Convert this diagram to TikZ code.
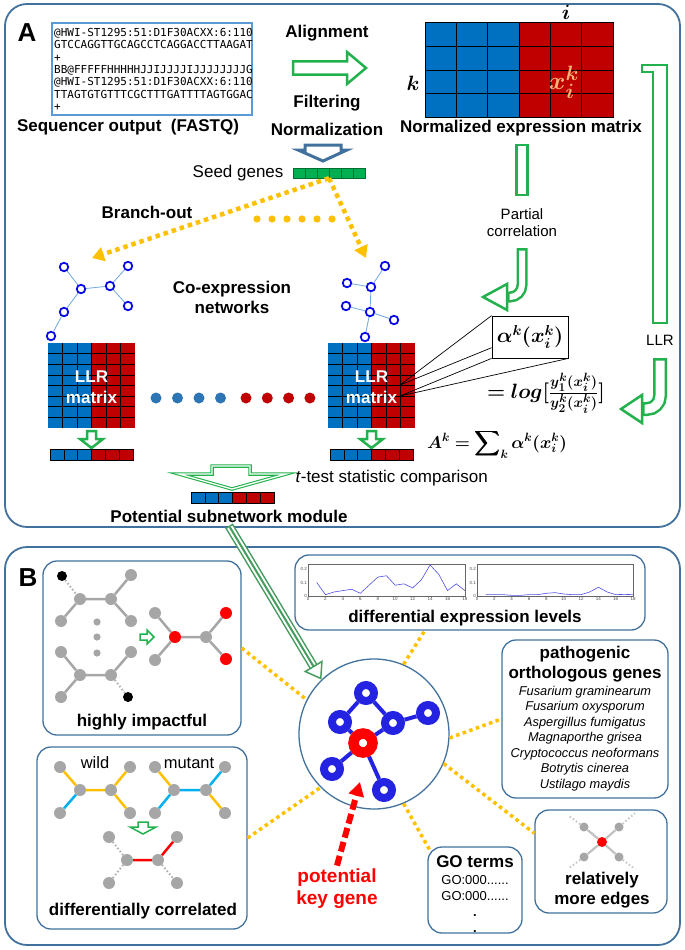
\documentclass[tikz,border=0pt]{standalone}
\usepackage{amsmath}
\usepackage{bm}
\usepackage{fontspec}
\setmainfont{Liberation Sans}
\setmonofont{DejaVu Sans Mono}
\usetikzlibrary{calc,arrows.meta,backgrounds}

\definecolor{mblue}{RGB}{0,112,192}
\definecolor{mred}{RGB}{192,0,0}
\definecolor{agreen}{RGB}{34,177,76}
\definecolor{sgreen}{RGB}{0,176,80}
\definecolor{dgreen}{RGB}{0,110,50}
\definecolor{tgreen}{RGB}{70,155,95}
\definecolor{panelblue}{RGB}{65,113,156}
\definecolor{fqblue}{RGB}{91,155,213}
\definecolor{gold}{RGB}{255,192,0}
\definecolor{netblue}{RGB}{10,10,230}
\definecolor{edgeblue}{RGB}{111,168,220}
\definecolor{hubblue}{RGB}{35,35,225}
\definecolor{nodegray}{RGB}{166,166,166}
\definecolor{cyanedge}{RGB}{0,176,240}
\definecolor{dotblue}{RGB}{46,117,182}
\definecolor{keyred}{RGB}{255,0,0}
\definecolor{xorange}{RGB}{248,180,120}
\definecolor{plotblue}{RGB}{80,80,230}

\begin{document}
\begin{tikzpicture}[x=1pt,y=-1pt,
  panel/.style={draw=panelblue,line width=1.8pt,rounded corners=22pt},
  infobox/.style={draw=panelblue,line width=1.3pt,rounded corners=14pt,inner sep=0pt},
  lab/.style={font=\fontsize{17}{20}\selectfont\bfseries,align=center},
  txt/.style={font=\fontsize{16.5}{19}\selectfont,align=center},
  smalltxt/.style={font=\fontsize{15}{17}\selectfont,align=center},
  eq/.style={font=\fontsize{20.74}{24}\selectfont,inner sep=1pt},
  fat/.style={draw=agreen,line width=2.5pt,fill=white,line join=miter},
  link/.style={draw=gold,line width=3.5pt,dash pattern=on 3.5pt off 3.5pt},
  branch/.style={draw=gold,line width=4.5pt,dash pattern=on 4.5pt off 4pt,-{Triangle[length=12pt,width=14pt]}},
  bnode/.style={circle,draw=netblue,line width=1.8pt,fill=white,inner sep=0pt,minimum size=8.5pt},
  bedge/.style={draw=edgeblue,line width=0.8pt},
  ring/.style={circle,draw=hubblue,line width=8pt,fill=white,inner sep=0pt,minimum size=16pt},
  redring/.style={ring,draw=keyred,line width=10.5pt,minimum size=19pt},
  hedge/.style={draw=hubblue,line width=4pt},
  gnode/.style={circle,fill=nodegray,inner sep=0pt,minimum size=12pt},
  rnode/.style={gnode,fill=keyred},
  knode/.style={gnode,fill=black,minimum size=10pt},
  gedge/.style={draw=nodegray,line width=2.5pt},
  gdots/.style={draw=nodegray!85,line width=2pt,dash pattern=on 1.6pt off 2.2pt},
  ticklab/.style={font=\fontsize{4.5}{5}\selectfont,inner sep=1pt,text=black!70},
]
\useasboundingbox (0,0) rectangle (685,950);

% ---------------- panel A ----------------
\draw[panel] (5,4) rectangle (680,527);
\node[font=\fontsize{26}{26}\selectfont\bfseries] (labA) at (27,33) {A};

% sequencer reads
\node[draw=fqblue,line width=1.2pt,minimum width=200pt,minimum height=92pt,inner sep=0pt] (fastq) at (152,69) {};
\begin{scope}
  \clip (fastq.north west) rectangle (fastq.south east);
  \node[anchor=north west,inner sep=0pt,align=left,font=\ttfamily\fontsize{11}{12.4}\selectfont] (reads) at (54,28)
    {@HWI-ST1295:51:D1F30ACXX:6:1101:1463\\
     GTCCAGGTTGCAGCCTCAGGACCTTAAGAT\\
     +\\
     BB@FFFFFHHHHHJJIJJJJIJJJJJJJJGJJ\\
     @HWI-ST1295:51:D1F30ACXX:6:1101:1735\\
     TTAGTGTGTTTCGCTTTGATTTTAGTGGAC\\
     +};
\end{scope}
\node[lab] (seqout) at (128,127) {Sequencer output\ \ (FASTQ)};

% alignment / filtering
\node[lab] (align) at (327,33) {Alignment};
\draw[fat] (293,61.5) -- (347,61.5) -- (347,52) -- (366,68) -- (347,84) -- (347,74.5) -- (293,74.5) -- cycle;
\node[lab] (filter) at (327,103) {Filtering};
\node[lab] (norm) at (327,129) {Normalization};
\draw[draw=panelblue,line width=3pt,fill=white,line join=miter] (305,145) -- (341,145) -- (341,150) -- (347,150) -- (323,161) -- (298,150) -- (305,150) -- cycle;

% normalized expression matrix
\node[minimum width=188pt,minimum height=94pt,inner sep=0pt] (exprmat) at (519,70) {};
\fill[mblue] (exprmat.north west) rectangle (exprmat.south);
\fill[mred] (exprmat.north) rectangle (exprmat.south east);
\foreach \i in {1,...,5} \draw[line width=0.6pt] ({425+31.33*\i},23) -- ({425+31.33*\i},117);
\foreach \j in {1,2,3} \draw[line width=0.6pt] (425,{23+23.5*\j}) -- (613,{23+23.5*\j});
\draw[line width=0.6pt] (exprmat.north west) rectangle (exprmat.south east);
\node[font=\fontsize{20.74}{22}\selectfont] (colI) at (566,12) {$\bm{i}$};
\node[font=\fontsize{20.74}{22}\selectfont] (rowK) at (413,83) {$\bm{k}$};
\node[font=\fontsize{24.88}{26}\selectfont,text=xorange,inner sep=0pt] (cellX) at (564,82) {$\bm{x_i^k}$};
\node[lab] (normlab) at (521,128) {Normalized expression matrix};

% seed genes
\node[txt,anchor=east,font=\fontsize{17}{20}\selectfont] (seedlab) at (287,173) {Seed genes};
\node[fill=sgreen,minimum width=72pt,minimum height=10pt,inner sep=0pt] (seed) at (329,173) {};
\foreach \i in {1,...,5} \draw[dgreen,line width=0.6pt] ({293+12*\i},168) -- ({293+12*\i},178);
\draw[dgreen,line width=0.6pt] (seed.north west) rectangle (seed.south east);

% branch-out
\node[lab] (branchlab) at (147,212) {Branch-out};
\coordinate (branchL) at (92,258);
\coordinate (branchR) at (366,258);
\draw[branch] (seed.south) -- (branchL);
\draw[branch] (seed.south) -- (branchR);
\foreach \i in {0,...,5} \fill[gold] ({257+15*\i},219) circle[radius=3.6pt];

% co-expression networks
\node[lab] (coexp) at (232,297) {Co-expression\\networks};
\node[bnode] (n1) at (64,267) {};
\node[bnode] (n2) at (128,266) {};
\node[bnode] (n3) at (81,289) {};
\node[bnode] (n4) at (110,286) {};
\node[bnode] (n5) at (128,306) {};
\node[bnode] (n6) at (64,312) {};
\node[bnode] (n7) at (51,336) {};
\draw[bedge] (n1) -- (n3) (n3) -- (n4) (n4) -- (n2) (n4) -- (n5) (n3) -- (n6) (n6) -- (n7);
\node[bnode] (m1) at (385,266) {};
\node[bnode] (m2) at (347,283) {};
\node[bnode] (m3) at (371,287) {};
\node[bnode] (m4) at (346,306) {};
\node[bnode] (m5) at (370,312) {};
\node[bnode] (m6) at (394,320) {};
\node[bnode] (m7) at (365,337) {};
\draw[bedge] (m1) -- (m3) (m2) -- (m3) (m3) -- (m5) (m4) -- (m5) (m5) -- (m6) (m5) -- (m7);

% LLR matrices and score bars
\foreach \mx/\nm in {48/llrL,328/llrR}{
  \node[minimum width=87pt,minimum height=85pt,inner sep=0pt] (\nm) at ({\mx+43.5},385.5) {};
  \fill[mblue] (\nm.north west) rectangle (\nm.south);
  \fill[mred] (\nm.north) rectangle (\nm.south east);
  \foreach \i in {1,...,5} \draw[line width=0.4pt] ({\mx+14.5*\i},343) -- ({\mx+14.5*\i},428);
  \foreach \j in {1,...,7} \draw[line width=0.4pt] (\mx,{343+10.6*\j}) -- ({\mx+87},{343+10.6*\j});
  \node[lab,text=white] at ({\mx+43.5},377) {LLR};
  \node[lab,text=white] at ({\mx+43.5},397) {matrix};
  \draw[fat] ({\mx+39},431) -- ({\mx+48},431) -- ({\mx+48},439) -- ({\mx+55},439) -- ({\mx+43.5},448)
    -- ({\mx+32},439) -- ({\mx+39},439) -- cycle;
  \foreach \i in {0,1,2} \draw[fill=mblue,line width=0.4pt] ({\mx+2+13.83*\i},449) rectangle ++(13.83,11);
  \foreach \i in {3,4,5} \draw[fill=mred,line width=0.4pt] ({\mx+2+13.83*\i},449) rectangle ++(13.83,11);
}
\foreach \i in {0,...,3} \fill[dotblue] ({156+21.5*\i},398) circle[radius=5.5pt];
\foreach \i in {0,...,3} \fill[mred] ({246+21.3*\i},398) circle[radius=5.5pt];

% merge into module
\draw[draw=agreen,line width=1.1pt,double=white,double distance=1.3pt,fill=white,line join=miter]
  (212,466) -- (250,466) -- (250,474) -- (286,474) -- (232,489) -- (179,474) -- (212,474) -- cycle;
\node[txt,anchor=west,font=\fontsize{17}{20}\selectfont] (ttest) at (292,478) {\textit{t}-test statistic comparison};
\foreach \i in {0,1,2} \draw[fill=mblue,line width=0.4pt] ({191+13.83*\i},492) rectangle ++(13.83,11);
\foreach \i in {3,4,5} \draw[fill=mred,line width=0.4pt] ({191+13.83*\i},492) rectangle ++(13.83,11);
\node[lab] (module) at (229,516) {Potential subnetwork module};

% partial correlation arrow
\draw[fat] (516.5,145) rectangle (527.5,195);
\node[smalltxt] (pcor) at (522,223) {Partial\\correlation};
\draw[agreen,line width=11pt,rounded corners=12pt] (522,248) -- (522,297) -- (507,297);
\draw[fat] (507,284) -- (483,297) -- (507,310) -- cycle;
\draw[white,line width=6pt,rounded corners=12pt,shorten <=2.5pt] (522,248) -- (522,297) -- (509.5,297);

% LLR arrow
\draw[fat] (642,65) -- (667,65) -- (667,323) -- (653,323) -- (653,72) -- (642,72) -- cycle;
\node[smalltxt] (llrlab) at (660,340) {LLR};
\draw[agreen,line width=14pt,rounded corners=13pt] (660,358) -- (660,409) -- (642,409);
\draw[fat] (642,395) -- (621,409) -- (642,423) -- cycle;
\draw[white,line width=9pt,rounded corners=13pt,shorten <=2.5pt] (660,358) -- (660,409) -- (644.5,409);

% LLR definition
\node[draw,line width=0.8pt,minimum width=76pt,minimum height=42pt,inner sep=0pt,font=\fontsize{20.74}{22}\selectfont] (alphabox) at (530,337) {$\bm{\alpha^k(x_i^k)}$};
\coordinate (cellA) at (400,385);
\coordinate (cellB) at (400,396);
\draw[line width=0.7pt] (cellA) -- (alphabox.north west) (cellA) -- ($(alphabox.north west)!0.75!(alphabox.south west)$)
  (cellB) -- (alphabox.south west) (cellB) -- (alphabox.south east);
\node[eq] (ratio) at (546,393) {$\bm{=log[\frac{y_1^k(x_i^k)}{y_2^k(x_i^k)}]}$};
\node[font=\fontsize{17.28}{20}\selectfont,inner sep=1pt] (sumeq) at (497,444) {$\displaystyle\bm{A^k=\sum\nolimits_k\alpha^k(x_i^k)}$};

% ---------------- panel B ----------------
\draw[panel] (5,547) rectangle (680,945);
\node[font=\fontsize{26}{26}\selectfont\bfseries] (labB) at (28,578) {B};

% highly impactful
\node[infobox,minimum width=198pt,minimum height=174pt] (impact) at (142,648) {};
\node[knode] (b1) at (62,576) {};
\node[gnode] (g1) at (80,599) {};
\node[gnode] (g2) at (111,599) {};
\node[gnode] (g3) at (131,575) {};
\node[gnode] (g4) at (61,621) {};
\node[gnode] (g5) at (131,621) {};
\node[gnode] (g6) at (61,652) {};
\node[gnode] (g7) at (131,652) {};
\node[gnode] (g8) at (80,675) {};
\node[gnode] (g9) at (111,675) {};
\node[gnode] (g10) at (61,697) {};
\node[knode] (b2) at (128,697) {};
\draw[gedge] (g1) -- (g2) (g1) -- (g4) (g2) -- (g3) (g2) -- (g5) (g8) -- (g9) (g8) -- (g6) (g8) -- (g10) (g9) -- (g7);
\draw[gdots] (b1) -- (g1) (g9) -- (b2);
\foreach \y in {622,637,653} \fill[nodegray] (97,\y) circle[radius=3.6pt];
\draw[fat,line width=1.5pt] (140,634) -- (147,634) -- (147,630) -- (154,637) -- (147,644) -- (147,640) -- (140,640) -- cycle;
\node[gnode] (h1) at (155,613) {};
\node[rnode] (r1) at (175,637) {};
\node[gnode] (h2) at (155,660) {};
\node[gnode] (h3) at (206,637) {};
\node[rnode] (r2) at (226,613) {};
\node[rnode] (r3) at (226,659) {};
\draw[gedge] (h1) -- (r1) (h2) -- (r1) (r1) -- (h3) (h3) -- (r2) (h3) -- (r3);
\node[lab] (impactlab) at (142,722) {highly impactful};

% differentially correlated
\node[infobox,minimum width=210pt,minimum height=182pt] (diffcor) at (142,838) {};
\node[txt] (wild) at (95,763) {wild};
\node[txt] (mutant) at (189,763) {mutant};
\node[gnode] (w1) at (60,767) {};
\node[gnode] (w2) at (80,790) {};
\node[gnode] (w3) at (111,790) {};
\node[gnode] (w4) at (130,767) {};
\node[gnode] (w5) at (60,813) {};
\node[gnode] (w6) at (130,813) {};
\draw[gold,line width=2.5pt] (w1) -- (w2) (w2) -- (w3) (w3) -- (w4) (w3) -- (w6);
\draw[cyanedge,line width=2.5pt] (w2) -- (w5);
\node[gnode] (u1) at (155,767) {};
\node[gnode] (u2) at (174,790) {};
\node[gnode] (u3) at (206,790) {};
\node[gnode] (u4) at (225,767) {};
\node[gnode] (u5) at (155,813) {};
\node[gnode] (u6) at (225,813) {};
\draw[gold,line width=2.5pt] (u1) -- (u2) (u3) -- (u6);
\draw[cyanedge,line width=2.5pt] (u2) -- (u3) (u3) -- (u4) (u2) -- (u5);
\draw[fat,line width=1.5pt] (138,822) -- (148,822) -- (148,827) -- (156,827) -- (143,834) -- (130,827) -- (138,827) -- cycle;
\node[gnode] (d1) at (109,837) {};
\node[gnode] (d2) at (127,860) {};
\node[gnode] (d3) at (158,860) {};
\node[gnode] (d4) at (177,837) {};
\node[gnode] (d5) at (109,883) {};
\node[gnode] (d6) at (177,883) {};
\draw[gdots] (d1) -- (d2) (d2) -- (d5) (d3) -- (d6);
\draw[keyred,line width=2.5pt] (d2) -- (d3) (d3) -- (d4);
\node[lab] (diffcorlab) at (143,911) {differentially correlated};

% differential expression levels
\node[infobox,minimum width=350pt,minimum height=75pt] (expr) at (470,592.5) {};
\begin{scope}[shift={(308,596)},x=8.72pt,y=135pt]
  \draw[line width=0.4pt,black!60] (0,0) rectangle (18,0.235);
  \foreach \t in {0,2,...,18} \node[ticklab,below] at (\t,0) {\t};
  \foreach \v in {0,0.1,0.2} \node[ticklab,left] at (0,\v) {\v};
  \draw[plotblue,line width=0.6pt] plot coordinates {(1,0.10) (2,0.01) (3,0.03) (4,0.04) (5,0.05) (6,0.02) (7,0.08)
    (8,0.14) (9,0.15) (10,0.08) (11,0.09) (12,0.06) (13,0.12) (14,0.23) (15,0.16) (16,0.04) (17,0.09) (18,0.04)};
\end{scope}
\begin{scope}[shift={(477,596)},x=8.67pt,y=135pt]
  \draw[line width=0.4pt,black!60] (0,0) rectangle (18,0.235);
  \foreach \t in {0,2,...,18} \node[ticklab,below] at (\t,0) {\t};
  \foreach \v in {0,0.1,0.2} \node[ticklab,left] at (0,\v) {\v};
  \draw[plotblue,line width=0.6pt] plot coordinates {(1,0.01) (2,0.01) (3,0.01) (4,0.005) (5,0.005) (6,0.01) (7,0.01)
    (8,0.02) (9,0.025) (10,0.015) (11,0.01) (12,0.01) (13,0.03) (14,0.065) (15,0.03) (16,0.01) (17,0.012) (18,0.01)};
\end{scope}
\node[lab] (exprlab) at (465,618) {differential expression levels};

% pathogenic orthologous genes
\node[infobox,minimum width=166pt,minimum height=158pt] (patho) at (585,719) {};
\node[lab] (pathotitle) at (585,664) {pathogenic\\orthologous genes};
\node[font=\itshape\fontsize{12.8}{15.5}\selectfont,align=center] (species) at (585,738.5)
  {Fusarium graminearum\\Fusarium oxysporum\\Aspergillus fumigatus\\Magnaporthe grisea\\Cryptococcus neoformans\\Botrytis cinerea\\Ustilago maydis};

% relatively more edges
\node[infobox,minimum width=132pt,minimum height=103pt] (edges) at (601,861.5) {};
\node[rnode,minimum size=10pt] (e0) at (602,842) {};
\node[gnode,minimum size=9pt] (e1) at (584,827) {};
\node[gnode,minimum size=9pt] (e2) at (619,827) {};
\node[gnode,minimum size=9pt] (e3) at (584,857) {};
\node[gnode,minimum size=9pt] (e4) at (619,857) {};
\coordinate (f1) at (569,816);
\coordinate (f2) at (635,813);
\coordinate (f3) at (569,868);
\coordinate (f4) at (635,869);
\draw[draw=nodegray!70,line width=2.2pt] (e0) -- (e1) (e0) -- (e2) (e0) -- (e3) (e0) -- (e4);
\draw[gdots,draw=nodegray!60] (e1) -- (f1) (e2) -- (f2) (e3) -- (f3) (e4) -- (f4);
\node[lab] (edgeslab) at (602,890) {relatively\\more edges};

% GO terms
\node[infobox,minimum width=94pt,minimum height=86pt] (go) at (475,890) {};
\node[lab] (golab) at (475,862) {GO terms};
\node[font=\fontsize{13}{16}\selectfont,align=center] (goids) at (475,904) {GO:000......\\GO:000......\\\textbf{.}\\\textbf{.}};

% potential key gene hub
\node[circle,draw=panelblue,line width=1.3pt,minimum size=150pt,inner sep=0pt] (hub) at (374,734) {};
\node[ring] (c1) at (366,693) {};
\node[ring] (c2) at (340,722) {};
\node[ring] (c3) at (393,723) {};
\node[ring] (c4) at (428,713) {};
\node[redring] (c5) at (363,743) {};
\node[ring] (c6) at (332,769) {};
\node[ring] (c7) at (384,790) {};
\begin{pgfonlayer}{background}
  \draw[hedge] (c1) -- (c2) (c1) -- (c3) (c3) -- (c4) (c2) -- (c5) (c3) -- (c5) (c5) -- (c6) (c5) -- (c7);
\end{pgfonlayer}
\node[lab,text=keyred,font=\fontsize{19}{22}\selectfont\bfseries] (keylab) at (337,889) {potential\\key gene};
\coordinate (keytip) at (360,782);
\draw[keyred,line width=6pt,dash pattern=on 10pt off 4.5pt,-{Triangle[length=14pt,width=15pt]}] (keylab.north) -- (keytip);

% links from the hub
\draw[link] (impact.east) -- (hub.153);
\draw[link] (diffcor.east) -- (hub.225);
\draw[link] (hub.67) -- ($(expr.south west)!0.371!(expr.south east)$);
\draw[link] (hub.-3) -- (patho.west);
\draw[link] (hub.-23) -- ($(edges.north west)!0.23!(edges.south west)$);
\draw[link] (hub.-67) -- ($(go.north west)+(2,3)$);

% module feeds the hub
\coordinate (modhead) at ($(hub.134)!16pt!(module.south)$);
\coordinate (modtail) at ($(hub.134)!20pt!(module.south)$);
\draw[tgreen,line width=9pt] (module.south) -- (modhead);
\draw[white,line width=6pt,shorten <=1.5pt] (module.south) -- (modhead);
\draw[tgreen,line width=2pt,shorten <=1.5pt] (module.south) -- (modhead);
\draw[tgreen,line width=1.5pt,-{Triangle[length=16pt,width=22pt,fill=white]}] (modtail) -- (hub.134);
\end{tikzpicture}
\end{document}
